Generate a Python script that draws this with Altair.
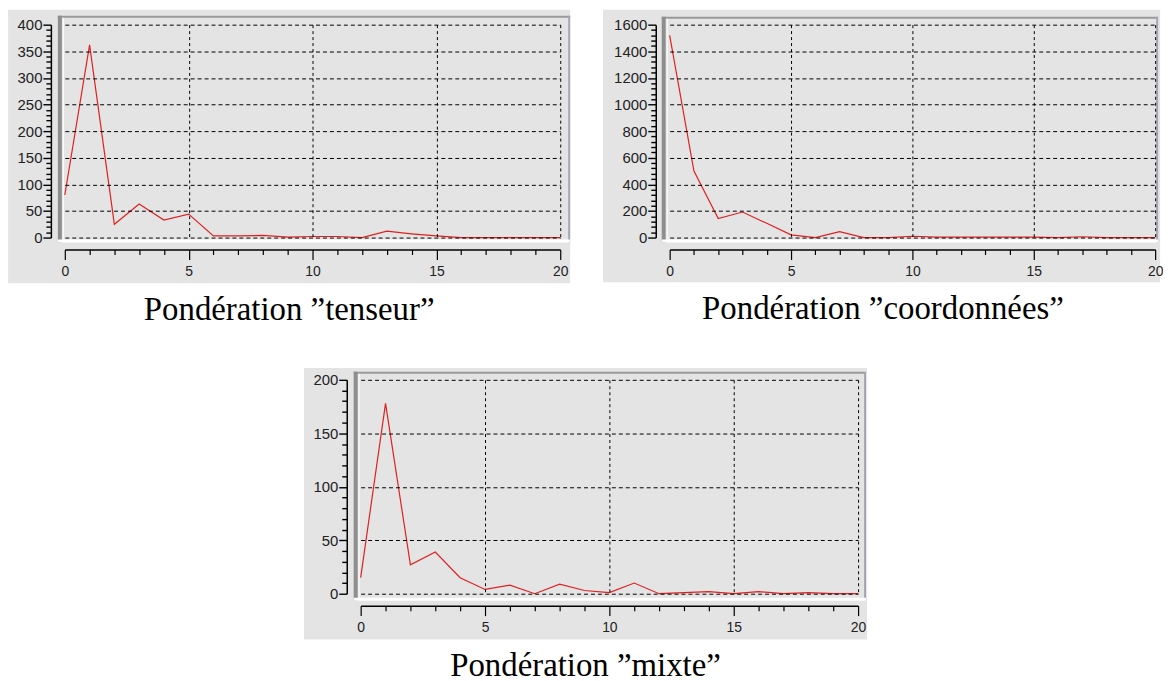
import altair as alt
import pandas as pd

x_vals = list(range(21))
tenseur = [80, 362, 25, 63, 33, 44, 3, 3, 4, 1, 2, 2, 0, 12, 7, 3, 0, 0, 0, 0, 0]
coordonnees = [1520, 500, 143, 192, 107, 20, 0, 45, 0, 0, 10, 4, 4, 4, 4, 4, 0, 6, 0, 0, 0]
mixte = [15, 178, 27, 39, 15, 4, 8, 0, 9, 3, 1, 10, 0, 1, 2, 0, 2, 0, 1, 0, 0]
titles = ["Pond\u00e9ration \u201dtenseur\u201d",
          "Pond\u00e9ration \u201dcoordonn\u00e9es\u201d",
          "Pond\u00e9ration \u201dmixte\u201d"]

GRAY = "#e4e4e4"
RED = "#e02020"
LABEL_FONT = "Liberation Sans"

one = pd.DataFrame({"k": [0]})


def box(x1, x2, y1, y2, color):
    return alt.Chart(one).mark_rect(color=color).encode(
        x=alt.value(x1), x2=alt.value(x2), y=alt.value(y1), y2=alt.value(y2))


def panel(values, title, ymax, ymajor, yminor, W, H, gray, frame):
    gl, gr, gt, gb = gray
    fl, fr, ft, fb = frame
    df = pd.DataFrame({"x": x_vals, "y": values})
    yticks = list(range(0, ymax + 1, yminor))
    xaxis = alt.Axis(
        values=x_vals, title=None, offset=12, zindex=1,
        domainColor="black", domainWidth=1.5, tickColor="black", tickWidth=1.2,
        tickSize={"condition": {"test": "datum.value % 5 === 0", "value": 10}, "value": 5},
        labelExpr="datum.value % 5 === 0 ? datum.label : ''",
        labelFont=LABEL_FONT, labelFontSize=14, labelColor="#222", labelPadding=5,
        labelFlush=False, labelOverlap=False,
        grid=True, gridColor="black", gridDash=[3, 3], gridWidth=1,
        gridOpacity={"condition": {"test": "datum.value % 5 === 0 && datum.value > 0", "value": 1}, "value": 0},
    )
    yaxis = alt.Axis(
        values=yticks, title=None, offset=14, zindex=1,
        domainColor="black", domainWidth=1.5, tickColor="black", tickWidth=1.4,
        tickSize={"condition": {"test": f"datum.value % {ymajor} === 0", "value": 8}, "value": 5},
        labelExpr=f"datum.value % {ymajor} === 0 ? datum.label : ''",
        labelFont=LABEL_FONT, labelFontSize=15, labelColor="#222", labelPadding=1,
        labelFlush=False, labelOverlap=False, format="d",
        grid=True, gridColor="black", gridDash=[4, 3], gridWidth=1,
        gridOpacity={"condition": {"test": f"datum.value % {ymajor} === 0", "value": 1}, "value": 0},
    )
    line = alt.Chart(df).mark_line(color=RED, strokeWidth=1.2).encode(
        x=alt.X("x:Q", scale=alt.Scale(domain=[0, 20], nice=False, zero=False), axis=xaxis),
        y=alt.Y("y:Q", scale=alt.Scale(domain=[0, ymax], nice=False), axis=yaxis),
    )
    layers = [
        box(gl, W + gr, gt, H + gb, GRAY),
        box(fl, W + fr, ft, ft + 2, "#9a9a9a"),
        box(W + fr - 2, W + fr, ft, H + fb, "#a3a7b3"),
        box(fl, fl + 4, ft, H + fb, "#8e8e8e"),
        box(fl, W + fr, H + fb - 3, H + fb, "#ffffff"),
        box(fl + 5, fl + 6, ft + 2, H + fb - 3, "#ffffff"),
        line,
    ]
    return alt.layer(*layers).properties(
        width=W, height=H,
        title=alt.TitleParams(title, orient="bottom", font="Liberation Serif", fontSize=33,
                              fontWeight="normal", color="black", anchor="middle",
                              frame="bounds", offset=11),
    )


A = panel(tenseur, titles[0], 400, 50, 10, 498, 214,
          gray=(-57, 10, -15, 46), frame=(-7, 10, -9, 5))
B = panel(coordonnees, titles[1], 1600, 200, 40, 488, 214,
          gray=(-67, 5, -15, 45), frame=(-8, 3, -8, 5))
C = panel(mixte, titles[2], 200, 50, 10, 500, 215,
          gray=(-57, 9, -12, 46), frame=(-7, 8, -8, 7))

chart = alt.vconcat(
    alt.hconcat(A, B, spacing=33),
    C,
    spacing=41,
    center=True,
).configure_view(stroke=None).properties(padding=0)

chart.save("out.html", embed_options={"renderer": "svg", "actions": False})
